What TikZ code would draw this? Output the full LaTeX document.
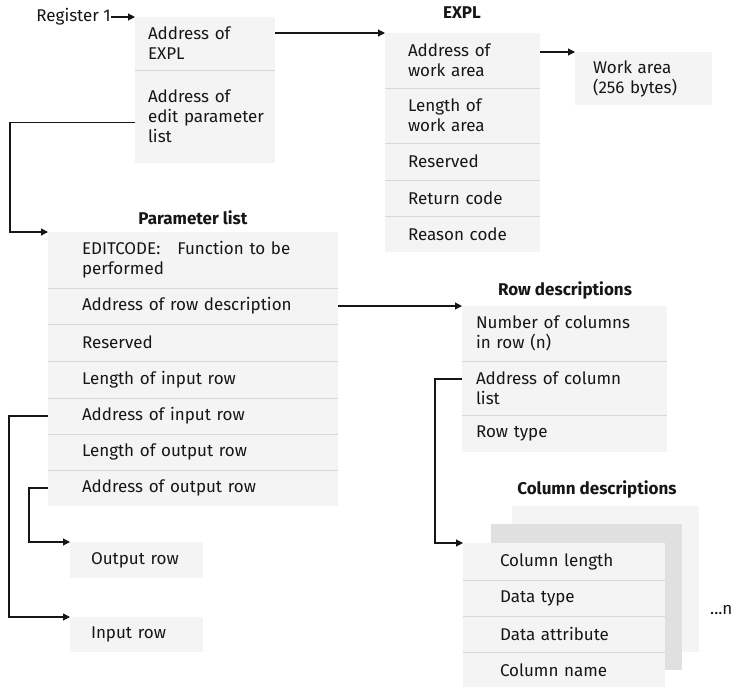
\documentclass[tikz,border=0pt]{standalone}
\usepackage{fontspec}
\setmainfont{Fira Sans}
\usetikzlibrary{arrows.meta, calc}
\definecolor{cellgray}{HTML}{F4F4F4}
\definecolor{shadegray}{HTML}{E0E0E0}
\definecolor{rulegray}{HTML}{D8D8D8}
\definecolor{inkblack}{HTML}{161616}
\newcommand{\cellfont}{\fontsize{17}{20}\selectfont}

\begin{document}
\begin{tikzpicture}[
  x=1pt, y=-1pt,
  cell/.style={fill=cellgray, anchor=north west, inner xsep=0pt, inner ysep=0pt,
    outer sep=0pt, align=left, font=\cellfont, text=inkblack},
  pad/.style 2 args={cell, text width=#1, execute at begin node={\leftskip=#2}},
  lbl/.style={font=\cellfont, inner sep=0pt, text=inkblack},
  ttl/.style={font=\cellfont\bfseries, inner sep=0pt, text=inkblack},
  divider/.style={rulegray, line width=1pt},
  arr/.style={-{Triangle[length=7pt,width=7pt]}, inkblack, line width=1.1pt},
  link/.style={inkblack, line width=1.1pt}
]
  \useasboundingbox (0,0) rectangle (731,686);

  %% REGISTER 1 BLOCK
  \node[lbl, anchor=east] (reg) at (111,17) {Register 1};
  \node[pad={140pt}{13pt}, minimum height=53pt] (rega1) at (135,17) {Address of\\EXPL};
  \node[pad={140pt}{13pt}, minimum height=93pt] (rega2) at (135,70)
    {Address of\\edit parameter\\list};

  %% EXPL
  \node[ttl] (expltitle) at (462,13) {EXPL};
  \node[pad={155pt}{23pt}, minimum height=55pt] (expl1) at (385,33) {Address of\\work area};
  \node[pad={155pt}{23pt}, minimum height=55pt] (expl2) at (385,88) {Length of\\work area};
  \node[pad={155pt}{23pt}, minimum height=37pt] (expl3) at (385,143) {Reserved};
  \node[pad={155pt}{23pt}, minimum height=36pt] (expl4) at (385,180) {Return code};
  \node[pad={155pt}{23pt}, minimum height=36pt] (expl5) at (385,216) {Reason code};

  %% WORK AREA
  \node[pad={137pt}{18pt}, minimum height=53pt] (work) at (575,52) {Work area\\(256 bytes)};

  %% PARAMETER LIST
  \node[ttl] (parmtitle) at (193,218) {Parameter list};
  \node[pad={290pt}{34pt}, minimum height=56pt] (parm1) at (48,232)
    {EDITCODE:\quad Function to be\\performed};
  \node[pad={290pt}{34pt}, minimum height=36pt] (parm2) at (48,288) {Address of row description};
  \node[pad={290pt}{34pt}, minimum height=37pt] (parm3) at (48,324) {Reserved};
  \node[pad={290pt}{34pt}, minimum height=37pt] (parm4) at (48,361) {Length of input row};
  \node[pad={290pt}{34pt}, minimum height=36pt] (parm5) at (48,398) {Address of input row};
  \node[pad={290pt}{34pt}, minimum height=36pt] (parm6) at (48,434) {Length of output row};
  \node[pad={290pt}{34pt}, minimum height=36pt] (parm7) at (48,470) {Address of output row};

  %% ROW DESCRIPTIONS
  \node[ttl] (rowdtitle) at (565,290) {Row descriptions};
  \node[pad={205pt}{14pt}, minimum height=55pt] (rowd1) at (462,306) {Number of columns\\in row (n)};
  \node[pad={205pt}{14pt}, minimum height=54pt] (rowd2) at (462,361) {Address of column\\list};
  \node[pad={205pt}{14pt}, minimum height=37pt] (rowd3) at (462,415) {Row type};

  %% COLUMN DESCRIPTIONS (stacked copies behind)
  \node[ttl] (coltitle) at (597,489) {Column descriptions};
  \node[cell, minimum width=187pt, minimum height=146pt] (colback) at (512,506) {};
  \node[cell, fill=shadegray, minimum width=191pt, minimum height=146pt] (colmid) at (491,524) {};
  \node[pad={202pt}{37pt}, minimum height=37pt] (colf1) at (463,543) {Column length};
  \node[pad={202pt}{37pt}, minimum height=36pt] (colf2) at (463,580) {Data type};
  \node[pad={202pt}{37pt}, minimum height=36pt] (colf3) at (463,616) {Data attribute};
  \node[pad={202pt}{37pt}, minimum height=36pt] (colf4) at (463,652) {Column name};
  \node[lbl, anchor=west] (more) at (710,610) {...n};

  %% OUTPUT / INPUT ROWS
  \node[pad={133pt}{21pt}, minimum height=36pt] (outrow) at (70,542) {Output row};
  \node[pad={133pt}{21pt}, minimum height=35pt] (inrow) at (70,617) {Input row};

  %% DIVIDERS between rows
  \foreach \n in {rega1, expl1, expl2, expl3, expl4, parm1, parm2, parm3, parm4, parm5,
                  parm6, rowd1, rowd2, colf1, colf2, colf3}
    \draw[divider] (\n.south west) -- (\n.south east);

  %% CONNECTORS
  \draw[arr] (reg.east) -- (rega1.north west);
  \draw[arr] (rega1.east |- expl1.north west) -- (expl1.north west);
  \draw[arr] (expl1.east |- work.north west) -- (work.north west);
  \draw[arr] ([yshift=-6pt]rega2.west) -- ++(-125,0) |- (parm1.north west);
  \draw[arr] (parm2.east) -- (rowd1.north west);
  \draw[arr] ([yshift=9pt]rowd2.west) -- ++(-27,0) |- (colf1.north west);
  \draw[arr] (parm7.west) -- ++(-19,0) |- (outrow.north west);
  \draw[arr] (parm5.west) -- ++(-39,0) |- (inrow.north west);

\end{tikzpicture}
\end{document}
